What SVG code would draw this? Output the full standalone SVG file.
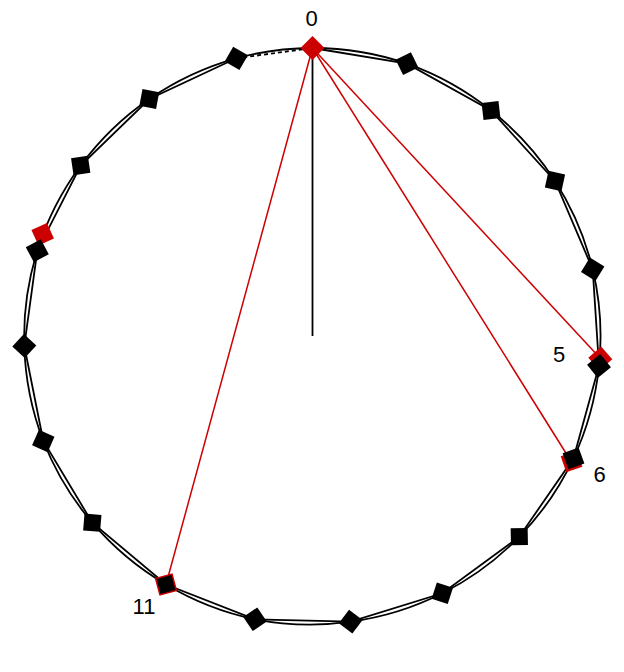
<svg xmlns="http://www.w3.org/2000/svg" width="624" height="672" viewBox="0 0 624 672">
<style>
.arc{fill:none;stroke:#000;stroke-width:1.8}
.chord{fill:none;stroke:#000;stroke-width:1.8}
.dash{stroke-dasharray:4 3}
.red{fill:none;stroke:#cc0000;stroke-width:1.5}
.axis{stroke:#000;stroke-width:1.8}
.nb{fill:#000}
.nr{fill:#cc0000}
.no{fill:#000;stroke:#cc0000;stroke-width:1.5}
text{font-family:"Liberation Sans",Arial,sans-serif;font-size:22px;fill:#000;text-anchor:middle}
</style>
<defs>
<rect id="sq" x="-8.5" y="-8.5" width="17" height="17"/>
</defs>
<rect width="624" height="672" fill="#fff"/>
<g id="connectors">
<path class="arc" d="M312.5,48 A288,288 0 0 1 407,63.7 A288,288 0 0 1 491,110.5 A288,288 0 0 1 555,181 A288,288 0 0 1 592.7,269.3 A288,288 0 0 1 599,366 A288,288 0 0 1 573.5,458.3 A288,288 0 0 1 519.3,536.7 A288,288 0 0 1 442.3,593.3 A288,288 0 0 1 350.7,621.7 A288,288 0 0 1 255,619.3 A288,288 0 0 1 166,584.5 A288,288 0 0 1 92.3,522.7 A288,288 0 0 1 43.3,441 A288,288 0 0 1 24.3,346 A288,288 0 0 1 37.3,250.7 A288,288 0 0 1 80.7,165.5 A288,288 0 0 1 149.3,99 A288,288 0 0 1 236.3,58.3 A288,288 0 0 1 312.5,48"/>
<polyline class="chord" points="312.5,48 407,63.7 491,110.5 555,181 592.7,269.3 599,366 573.5,458.3 519.3,536.7 442.3,593.3 350.7,621.7 255,619.3 166,584.5 92.3,522.7 43.3,441 24.3,346 37.3,250.7 80.7,165.5 149.3,99 236.3,58.3"/>
<line class="chord dash" x1="236.3" y1="58.3" x2="312.5" y2="48"/>
<line class="axis" x1="312.5" y1="48" x2="312.5" y2="336"/>
<line class="red" x1="312.5" y1="48" x2="600" y2="358"/>
<line class="red" x1="312.5" y1="48" x2="571.5" y2="462"/>
<line class="red" x1="312.5" y1="48" x2="166" y2="584.5"/>
</g>
<g id="marker-5"><use href="#sq" class="nr" transform="translate(600.3,358.5) rotate(139)"/></g>
<g id="marker-6"><use href="#sq" class="nr" transform="translate(571.5,461.5) rotate(161)"/></g>
<g id="marker-15"><use href="#sq" class="nr" transform="translate(42.7,234.3) rotate(335.7)"/></g>
<g id="node-1"><use href="#sq" class="nb" transform="translate(407,63.7) rotate(64)"/></g>
<g id="node-2"><use href="#sq" class="nb" transform="translate(491,110.5) rotate(83.5)"/></g>
<g id="node-3"><use href="#sq" class="nb" transform="translate(555,181) rotate(102.5)"/></g>
<g id="node-4"><use href="#sq" class="nb" transform="translate(592.7,269.3) rotate(121.6)"/></g>
<g id="node-5"><use href="#sq" class="nb" transform="translate(599,366) rotate(141)"/><text x="559" y="361.5">5</text></g>
<g id="node-6"><use href="#sq" class="nb" transform="translate(573.5,458.3) rotate(160)"/><text x="599.5" y="481.5">6</text></g>
<g id="node-7"><use href="#sq" class="nb" transform="translate(519.3,536.7) rotate(179)"/></g>
<g id="node-8"><use href="#sq" class="nb" transform="translate(442.3,593.3) rotate(198)"/></g>
<g id="node-9"><use href="#sq" class="nb" transform="translate(350.7,621.7) rotate(217)"/></g>
<g id="node-10"><use href="#sq" class="nb" transform="translate(255,619.3) rotate(236)"/></g>
<g id="node-11"><use href="#sq" class="no" transform="translate(166,584.5) rotate(255)"/><text x="144" y="614">11</text></g>
<g id="node-12"><use href="#sq" class="nb" transform="translate(92.3,522.7) rotate(274.6)"/></g>
<g id="node-13"><use href="#sq" class="nb" transform="translate(43.3,441) rotate(293.7)"/></g>
<g id="node-14"><use href="#sq" class="nb" transform="translate(24.3,346) rotate(313)"/></g>
<g id="node-15"><use href="#sq" class="nb" transform="translate(37.3,250.7) rotate(332)"/></g>
<g id="node-16"><use href="#sq" class="nb" transform="translate(80.7,165.5) rotate(351.5)"/></g>
<g id="node-17"><use href="#sq" class="nb" transform="translate(149.3,99) rotate(10.5)"/></g>
<g id="node-18"><use href="#sq" class="nb" transform="translate(236.3,58.3) rotate(29.8)"/></g>
<g id="node-0"><use href="#sq" class="nr" transform="translate(312.5,48) rotate(45)"/><text x="311.5" y="25.5">0</text></g>
</svg>
